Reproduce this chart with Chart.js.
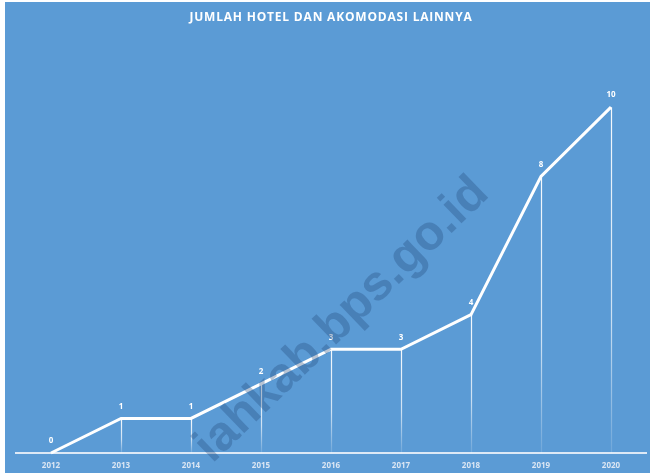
<!DOCTYPE html>
<html>
<head>
<meta charset="utf-8">
<script src="https://cdn.jsdelivr.net/npm/chart.js@4"></script>
<style>
  html, body { margin: 0; padding: 0; background: #fff; }
  #wrap { width: 650px; height: 473px; }
</style>
</head>
<body>
<div id="wrap"><canvas id="chart"></canvas></div>
<script>
// ── Data ──────────────────────────────────────
const years  = ['2012', '2013', '2014', '2015', '2016', '2017', '2018', '2019', '2020'];
const hotels = [0, 1, 1, 2, 3, 3, 4, 8, 10];

const TITLE = 'JUMLAH HOTEL DAN AKOMODASI LAINNYA';
const WATERMARK = 'iahkab.bps.go.id';
const BG = '#5b9bd5';

// ── Plugins ───────────────────────────────────
const background = {
  id: 'background',
  beforeDraw(chart) {
    const { ctx, width, height } = chart;
    ctx.save();
    ctx.fillStyle = '#fff';
    ctx.fillRect(0, 0, width, height);
    ctx.fillStyle = BG;
    ctx.fillRect(5, 2, width - 5, height - 2);
    ctx.fillStyle = '#fff';
    ctx.font = 'bold 12px "Open Sans", sans-serif';
    ctx.textAlign = 'center';
    ctx.textBaseline = 'middle';
    ctx.letterSpacing = '0.8px';
    ctx.fillText(TITLE, 331, 18);
    ctx.restore();
  }
};

// vertical drop lines from each point to the axis, fading downwards
const dropLines = {
  id: 'dropLines',
  beforeDatasetsDraw(chart) {
    const { ctx } = chart;
    const base = chart.scales.y.getPixelForValue(0);
    chart.getDatasetMeta(0).data.forEach((pt, i) => {
      if (!hotels[i]) return;
      const g = ctx.createLinearGradient(0, pt.y, 0, base);
      g.addColorStop(0, 'rgba(255,255,255,0.95)');
      g.addColorStop(0.6, 'rgba(255,255,255,0.7)');
      g.addColorStop(1, 'rgba(255,255,255,0.12)');
      ctx.save();
      ctx.strokeStyle = g;
      ctx.lineWidth = 1.2;
      ctx.beginPath();
      ctx.moveTo(Math.round(pt.x) + 0.5, pt.y);
      ctx.lineTo(Math.round(pt.x) + 0.5, base);
      ctx.stroke();
      ctx.restore();
    });
  }
};

const labels = {
  id: 'labels',
  afterDatasetsDraw(chart) {
    const { ctx } = chart;
    ctx.save();
    ctx.fillStyle = '#fff';
    ctx.font = 'bold 8px "Open Sans", sans-serif';
    ctx.textAlign = 'center';
    ctx.textBaseline = 'middle';
    chart.getDatasetMeta(0).data.forEach((pt, i) => {
      ctx.fillText(String(hotels[i]), pt.x, pt.y - 12);
    });
    ctx.restore();
  }
};

const watermark = {
  id: 'watermark',
  afterDraw(chart) {
    const { ctx } = chart;
    ctx.save();
    ctx.translate(342, 320);
    ctx.rotate(-44 * Math.PI / 180);
    ctx.fillStyle = 'rgba(35,70,120,0.32)';
    ctx.font = 'bold 49px "Liberation Sans", Arial, sans-serif';
    ctx.textAlign = 'center';
    ctx.textBaseline = 'middle';
    ctx.fillText(WATERMARK, 0, 0);
    ctx.restore();
  }
};

// ── Chart ─────────────────────────────────────
new Chart(document.getElementById('chart'), {
  type: 'line',
  data: {
    labels: years,
    datasets: [{
      data: hotels,
      borderColor: '#fff',
      borderWidth: 3,
      pointRadius: 0,
      tension: 0,
      clip: false
    }]
  },
  options: {
    responsive: true,
    maintainAspectRatio: false,
    animation: false,
    layout: { padding: { top: 38, left: 16, right: 4, bottom: 0 } },
    plugins: {
      legend: { display: false },
      title: { display: false },
      tooltip: { enabled: false }
    },
    scales: {
      x: {
        offset: true,
        grid: { display: false, offset: true },
        border: { color: 'rgba(235,242,250,0.9)', width: 2 },
        ticks: {
          color: '#dbe6f3',
          font: { family: '"Open Sans", sans-serif', size: 8, weight: 'bold' },
          padding: 0,
          maxRotation: 0
        },
        afterFit(scale) { scale.height = 20; }
      },
      y: {
        display: false,
        min: 0,
        max: 12
      }
    }
  },
  plugins: [background, dropLines, labels, watermark]
});
</script>
</body>
</html>
